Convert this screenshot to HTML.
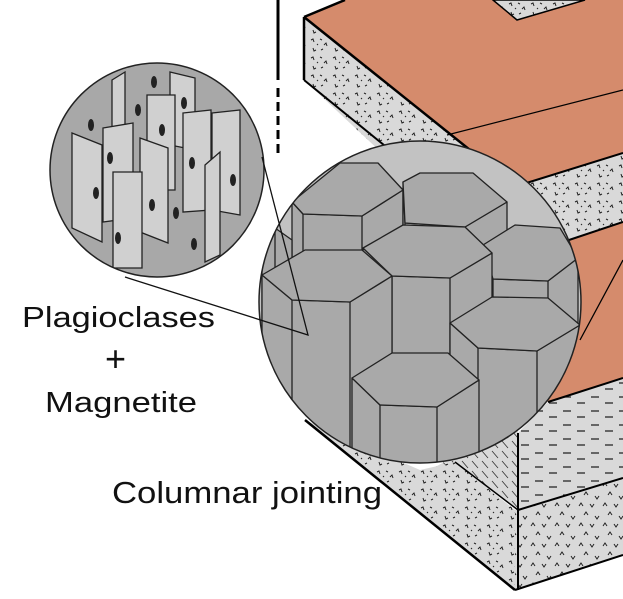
<!DOCTYPE html>
<html><head><meta charset="utf-8"><style>
html,body{margin:0;padding:0;background:#fff;}
svg{display:block;}
text{font-family:"Liberation Sans",Arial,sans-serif;fill:#111;}
</style></head><body>
<svg width="623" height="599" viewBox="0 0 623 599" xmlns="http://www.w3.org/2000/svg">
<defs>
<pattern id="sp" width="22" height="18" patternUnits="userSpaceOnUse">
<rect width="22" height="18" fill="#d9d9d9"/>
<path d="M3 4 l2 -1 l1 3 M12 3 l2 1 M16 9 l2 -2 l1 3 M5 12 l1 3 l2 -1 M13 14 l2 -1 M9 8 l1 1" stroke="#222" stroke-width="1" fill="none"/>
</pattern>
<pattern id="sp2" width="24" height="20" patternUnits="userSpaceOnUse">
<rect width="24" height="20" fill="#d9d9d9"/>
<path d="M3 6 l2 -3 l2 3 M14 4 l2 3 l2 -3 M8 15 l2 -3 l2 3 M19 16 l2 3 l2 -3" stroke="#222" stroke-width="1" fill="none"/>
</pattern>
<pattern id="ds" width="28" height="14" patternUnits="userSpaceOnUse">
<rect width="28" height="14" fill="#d9d9d9"/>
<path d="M3 5 h8 M17 11 h8" stroke="#222" stroke-width="1.2" fill="none"/>
</pattern>
<pattern id="sl" width="10" height="10" patternUnits="userSpaceOnUse">
<rect width="10" height="10" fill="#d9d9d9"/>
<path d="M2 1 l6 7" stroke="#333" stroke-width="0.8"/>
</pattern>
<clipPath id="bc"><circle cx="420" cy="302" r="161"/></clipPath>
<clipPath id="sc"><circle cx="157" cy="170" r="107"/></clipPath>
</defs>

<polygon points="304,17 345,0 623,0 623,378 548,402 430,330 467,147" fill="#d58b6c"/>
<polygon points="304,17 470,150 400,170 304,80" fill="url(#sp)"/>
<line x1="304" y1="17" x2="470" y2="150" stroke="#000" stroke-width="2.5"/>
<line x1="304" y1="17" x2="345" y2="0" stroke="#000" stroke-width="2.5"/>
<line x1="304" y1="17" x2="304" y2="80" stroke="#000" stroke-width="2.5"/>
<line x1="304" y1="80" x2="390" y2="150" stroke="#000" stroke-width="2"/>
<polygon points="493,0 517,20 585,0" fill="url(#sp)" stroke="#000" stroke-width="1.5"/>
<line x1="447" y1="135" x2="623" y2="90" stroke="#000" stroke-width="1.2"/>
<polygon points="520,185 623,153 623,222 560,243" fill="url(#sp)"/>
<line x1="520" y1="185" x2="623" y2="153" stroke="#000" stroke-width="2"/>
<line x1="560" y1="243" x2="623" y2="222" stroke="#000" stroke-width="2"/>
<line x1="580" y1="340" x2="623" y2="260" stroke="#000" stroke-width="1.3"/>

<polygon points="518,433 548,402 623,378 623,478 518,510" fill="url(#ds)"/>
<polygon points="430,470 518,420 518,510 455,462" fill="url(#sl)"/>
<polygon points="305,420 420,470 455,462 515,510 515,590" fill="url(#sp)"/>
<polygon points="515,510 623,478 623,555 515,590" fill="url(#sp2)"/>
<line x1="548" y1="402" x2="623" y2="378" stroke="#000" stroke-width="2"/>
<line x1="518" y1="433" x2="518" y2="590" stroke="#000" stroke-width="2"/>
<line x1="518" y1="510" x2="623" y2="478" stroke="#000" stroke-width="2"/>
<line x1="515" y1="590" x2="623" y2="555" stroke="#000" stroke-width="2"/>
<line x1="305" y1="420" x2="515" y2="590" stroke="#000" stroke-width="2.5"/>
<line x1="455" y1="462" x2="518" y2="510" stroke="#000" stroke-width="1.5"/>

<line x1="278" y1="0" x2="278" y2="80" stroke="#000" stroke-width="3"/>
<line x1="278" y1="88" x2="278" y2="156" stroke="#000" stroke-width="3" stroke-dasharray="9,5"/>

<circle cx="420" cy="302" r="161" fill="#c2c2c2"/>
<g clip-path="url(#bc)" fill="#a9a9a9" stroke="#222" stroke-width="1.3" stroke-linejoin="round">
<polygon points="292,202 303,214 362,216 403,190 403,480 292,480"/>
<polygon points="292,202 340,163 378,163 403,190 362,216 303,214"/>
<line x1="303" y1="214" x2="303" y2="480"/><line x1="362" y1="216" x2="362" y2="480"/>
<polygon points="403,182 405,223 465,227 507,202 507,480 403,480"/>
<polygon points="403,182 420,173 473,173 507,202 465,227 405,223"/>
<line x1="405" y1="223" x2="405" y2="480"/><line x1="465" y1="227" x2="465" y2="480"/>
<polygon points="483,245 493,279 548,281 578,258 578,480 483,480"/>
<polygon points="483,245 515,225 560,228 578,258 548,281 493,279"/>
<line x1="493" y1="279" x2="493" y2="480"/><line x1="548" y1="281" x2="548" y2="480"/>
<polygon points="262,240 275,228 292,240 292,480 262,480"/>
<line x1="275" y1="228" x2="275" y2="480"/>
<polygon points="363,248 392,276 450,278 492,253 492,480 363,480"/>
<polygon points="363,248 403,225 465,227 492,253 450,278 392,276"/>
<line x1="392" y1="276" x2="392" y2="480"/><line x1="450" y1="278" x2="450" y2="480"/>
<polygon points="262,275 292,300 350,302 392,276 392,480 262,480"/>
<polygon points="262,275 305,250 362,250 392,276 350,302 292,300"/>
<line x1="292" y1="300" x2="292" y2="480"/><line x1="350" y1="302" x2="350" y2="480"/>
<polygon points="450,323 478,348 537,351 580,325 580,480 450,480"/>
<polygon points="450,323 492,297 548,298 580,325 537,351 478,348"/>
<line x1="478" y1="348" x2="478" y2="480"/><line x1="537" y1="351" x2="537" y2="480"/>
<polygon points="352,378 380,405 437,407 479,380 479,480 352,480"/>
<polygon points="352,378 392,353 448,353 479,380 437,407 380,405"/>
<line x1="380" y1="405" x2="380" y2="480"/><line x1="437" y1="407" x2="437" y2="480"/>
</g>
<circle cx="420" cy="302" r="161" fill="none" stroke="#222" stroke-width="1.5"/>

<circle cx="157" cy="170" r="107" fill="#a8a8a8"/>
<g clip-path="url(#sc)" fill="#d0d0d0" stroke="#222" stroke-width="1.3">
<polygon points="112,80 125,72 125,150 112,165"/>
<polygon points="170,72 195,78 195,150 170,145"/>
<polygon points="147,95 175,95 175,190 147,190"/>
<polygon points="212,113 240,110 240,215 212,210"/>
<polygon points="183,113 211,110 211,210 183,212"/>
<polygon points="72,133 102,145 102,242 72,228"/>
<polygon points="103,128 133,123 133,218 103,222"/>
<polygon points="140,138 168,148 168,243 140,232"/>
<polygon points="205,165 220,152 220,255 205,262"/>
<polygon points="113,172 142,172 142,268 113,268"/>
</g>
<g fill="#222">
<ellipse cx="154" cy="82" rx="3" ry="6"/><ellipse cx="138" cy="110" rx="3" ry="6"/>
<ellipse cx="91" cy="125" rx="3" ry="6"/><ellipse cx="184" cy="103" rx="3" ry="6"/>
<ellipse cx="162" cy="130" rx="3" ry="6"/><ellipse cx="110" cy="158" rx="3" ry="6"/>
<ellipse cx="96" cy="193" rx="3" ry="6"/><ellipse cx="192" cy="163" rx="3" ry="6"/>
<ellipse cx="233" cy="180" rx="3" ry="6"/><ellipse cx="152" cy="205" rx="3" ry="6"/>
<ellipse cx="176" cy="213" rx="3" ry="6"/><ellipse cx="118" cy="238" rx="3" ry="6"/>
<ellipse cx="194" cy="244" rx="3" ry="6"/>
</g>
<circle cx="157" cy="170" r="107" fill="none" stroke="#222" stroke-width="1.5"/>

<polyline points="262,157 308,335 125,277" fill="none" stroke="#111" stroke-width="1.3"/>

<text x="22" y="327" font-size="29" textLength="193" lengthAdjust="spacingAndGlyphs">Plagioclases</text>
<text x="105" y="371" font-size="36">+</text>
<text x="45" y="412" font-size="29" textLength="152" lengthAdjust="spacingAndGlyphs">Magnetite</text>
<text x="112" y="503" font-size="31" textLength="270" lengthAdjust="spacingAndGlyphs">Columnar jointing</text>
</svg>
</body></html>
